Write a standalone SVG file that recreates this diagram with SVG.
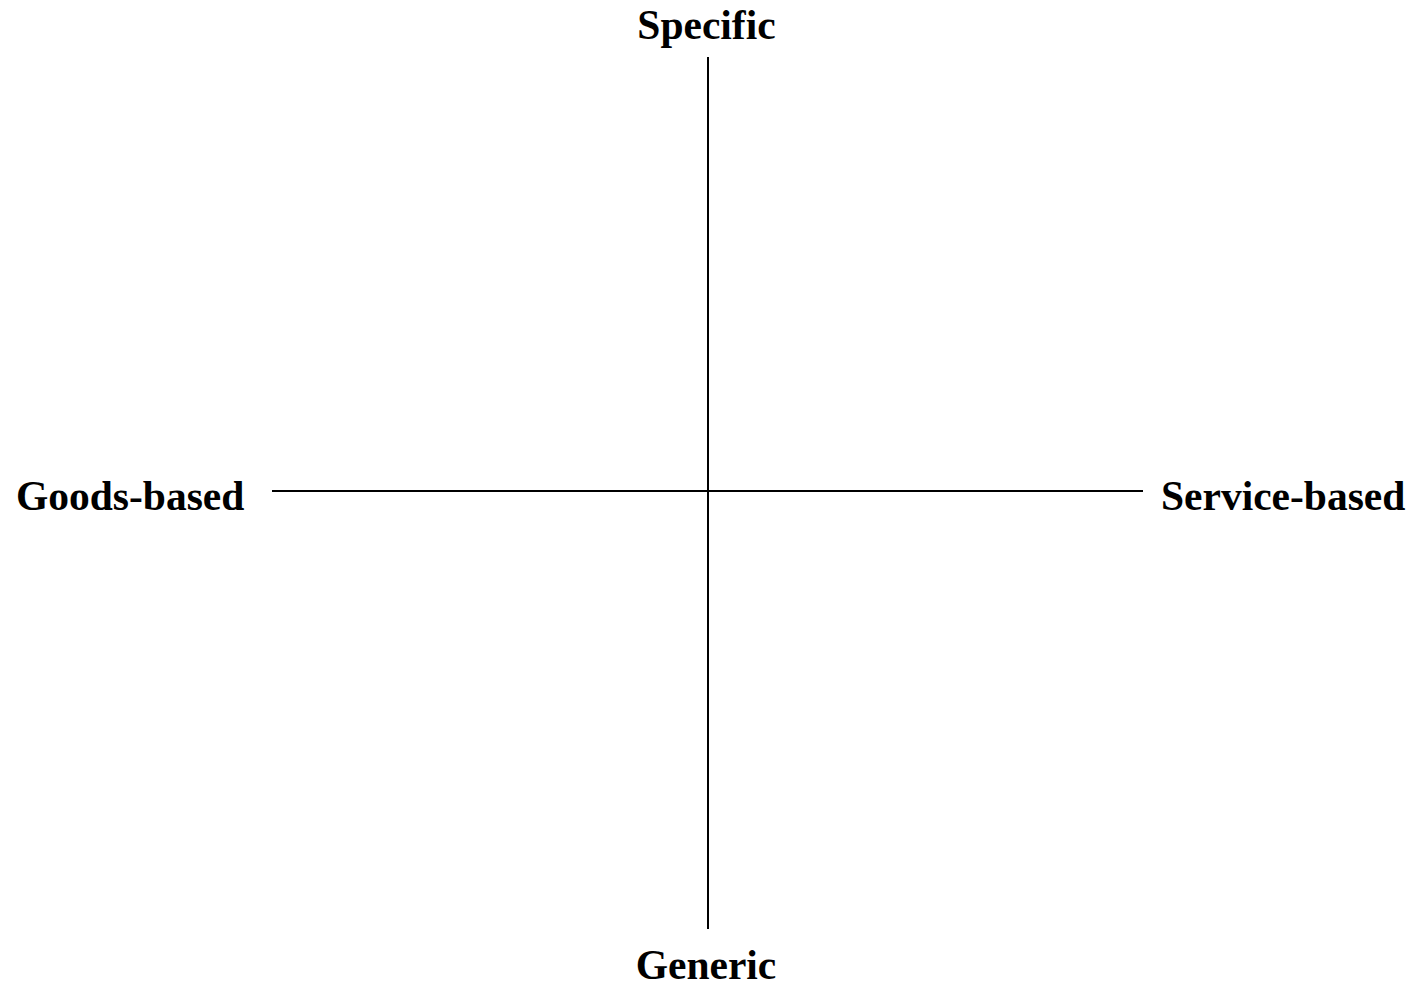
<svg xmlns="http://www.w3.org/2000/svg" width="1420" height="987" viewBox="0 0 1420 987">
<style>
.lbl{font-family:"Liberation Serif","Times New Roman",serif;font-weight:bold;font-size:41.5px;fill:#000}
.ax{stroke:#000;stroke-width:2;fill:none}
</style>
<rect width="1420" height="987" fill="#fff"/>
<g id="connectors">
<line class="ax" x1="708" y1="57" x2="708" y2="929"/>
<line class="ax" x1="272" y1="491" x2="1143" y2="491"/>
</g>
<g id="specific"><text class="lbl" x="706.5" y="39" text-anchor="middle">Specific</text></g>
<g id="generic"><text class="lbl" x="706" y="979" text-anchor="middle">Generic</text></g>
<g id="goods"><text class="lbl" x="16" y="510">Goods-based</text></g>
<g id="service"><text class="lbl" x="1161" y="510">Service-based</text></g>
</svg>
